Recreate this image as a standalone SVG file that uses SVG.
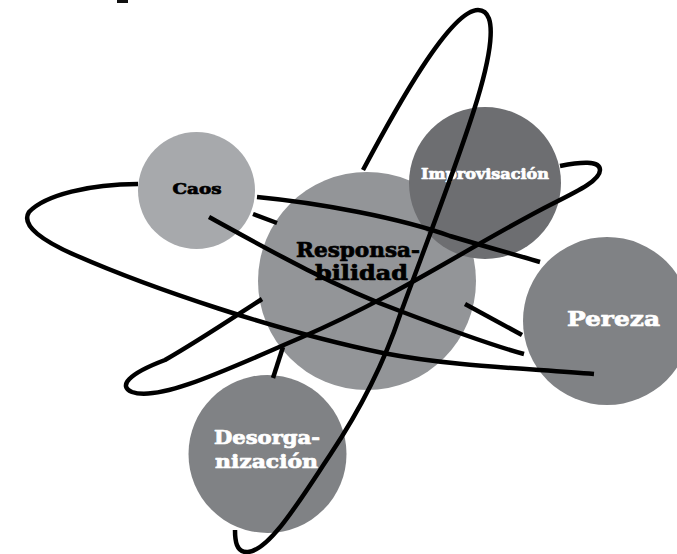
<svg xmlns="http://www.w3.org/2000/svg" width="677" height="554" viewBox="0 0 677 554">
<style>
.lbl{font-family:"DejaVu Serif","Liberation Serif",serif;font-weight:bold;text-anchor:middle;stroke-width:0.7;stroke-linejoin:round}
.dark{fill:#000;stroke:#000}
.light{fill:#fff;stroke:#fff}
.ln{fill:none;stroke:#000;stroke-width:4.5;stroke-linecap:butt;stroke-linejoin:round}
</style>
<rect width="677" height="554" fill="#fff"/>
<rect x="117" y="0" width="11" height="3" fill="#111"/>
<g id="node-caos">
<circle cx="196.5" cy="190.5" r="58.5" fill="#a7a9ac"/>
<text class="lbl dark" x="197" y="194" font-size="15" textLength="49" lengthAdjust="spacingAndGlyphs">Caos</text>
</g>
<g id="node-responsabilidad">
<circle cx="367" cy="281" r="109" fill="#939598"/>
<text class="lbl dark" x="358" y="257" font-size="20" textLength="124" lengthAdjust="spacingAndGlyphs">Responsa-</text>
<text class="lbl dark" x="361.5" y="280" font-size="20" textLength="93" lengthAdjust="spacingAndGlyphs">bilidad</text>
</g>
<g id="node-improvisacion">
<circle cx="485" cy="183" r="76" fill="#6d6e71"/>
<text class="lbl light" x="485" y="179" font-size="14.5" textLength="128" lengthAdjust="spacingAndGlyphs">Improvisación</text>
</g>
<g id="node-pereza">
<circle cx="607" cy="321" r="84" fill="#808285"/>
<text class="lbl light" x="613.5" y="326" font-size="21" textLength="93" lengthAdjust="spacingAndGlyphs">Pereza</text>
</g>
<g id="node-desorganizacion">
<circle cx="267.5" cy="454" r="79" fill="#808285"/>
<text class="lbl light" x="267" y="444" font-size="18" textLength="106" lengthAdjust="spacingAndGlyphs">Desorga-</text>
<text class="lbl light" x="266.5" y="468" font-size="18" textLength="103" lengthAdjust="spacingAndGlyphs">nización</text>
</g>
<g id="connectors">
<path class="ln" d="M363,170 C395,110 450,10 478,10 C500,10 490,60 474,110 C455,170 420,260 400,315 C385,360 360,410 330,455 C300,500 270,550 248,552 C236,553 235,540 235,530"/>
<path class="ln" d="M138,184 C90,184 45,195 29,212 C20,226 45,242 75,255 C150,288 280,332 383,353 C450,366 520,368 594,374"/>
<path class="ln" d="M257,197 C320,203 400,218 450,236 C490,248 520,256 540,262"/>
<path class="ln" d="M253,214 L277,223"/>
<path class="ln" d="M209,217 C260,245 330,285 400,311 C450,330 490,345 524,354"/>
<path class="ln" d="M465,304 L522,335"/>
<path class="ln" d="M560,166 C580,162 600,160 600,170 C600,180 580,190 554,203 C480,240 400,295 300,338 C230,368 160,402 132,392 C118,386 128,374 165,360 C200,340 240,313 262,299"/>
<path class="ln" d="M273,378 L283,347"/>
</g>
</svg>
